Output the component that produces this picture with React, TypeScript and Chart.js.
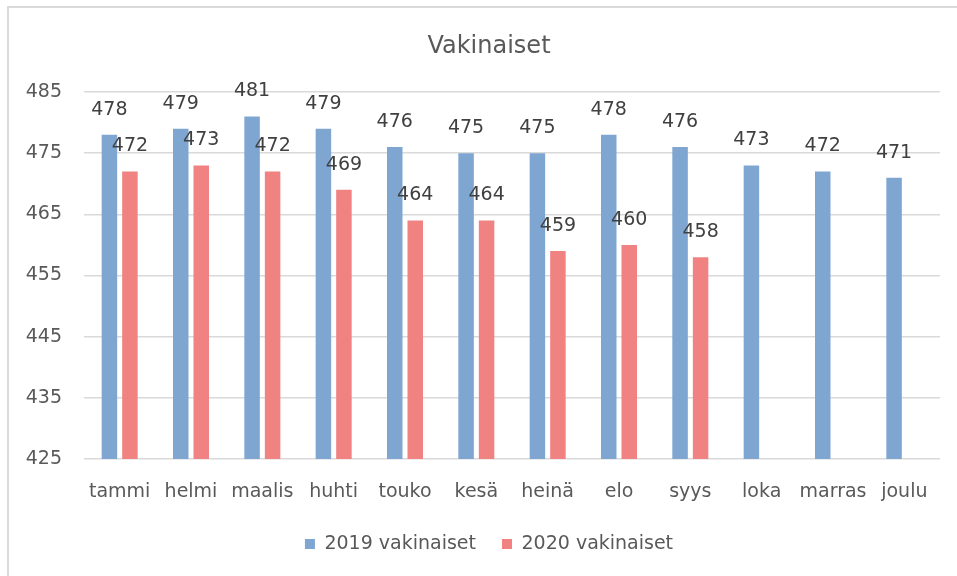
import React, { useEffect, useRef } from "react";
import { Chart, registerables } from "chart.js";

Chart.register(...registerables);

const categories = ["tammi", "helmi", "maalis", "huhti", "touko", "kesä", "heinä", "elo", "syys", "loka", "marras", "joulu"];
const values2019 = [478, 479, 481, 479, 476, 475, 475, 478, 476, 473, 472, 471];
const values2020: (number | null)[] = [472, 473, 472, 469, 464, 464, 459, 460, 458, null, null, null];
const seriesNames = ["2019 vakinaiset", "2020 vakinaiset"];
const chartTitle = "Vakinaiset";
const yMin = 425;
const yMax = 485;
const yStep = 10;

const FONT = '"DejaVu Sans", sans-serif';

const dataLabelPlugin = {
  id: "dataLabels",
  afterDatasetsDraw(chart: any) {
    const ctx = chart.ctx;
    ctx.save();
    ctx.font = `19px ${FONT}`;
    ctx.fillStyle = "#404040";
    ctx.textAlign = "center";
    ctx.textBaseline = "middle";
    chart.data.datasets.forEach((ds: any, i: number) => {
      const meta = chart.getDatasetMeta(i);
      meta.data.forEach((el: any, j: number) => {
        const v = ds.data[j];
        if (v == null) return;
        ctx.fillText(String(v), el.x, el.y - 25);
      });
    });
    ctx.restore();
  },
};

export default function App() {
  const ref = useRef<HTMLCanvasElement | null>(null);

  useEffect(() => {
    if (!ref.current) return;
    const chart = new Chart(ref.current, {
      type: "bar",
      data: {
        labels: categories,
        datasets: [
          {
            label: seriesNames[0],
            data: values2019,
            backgroundColor: "#7EA6D1",
            categoryPercentage: 0.575,
            barPercentage: 0.756,
            yAxisID: "y",
          },
          {
            label: seriesNames[1],
            data: values2020,
            backgroundColor: "#F08282",
            categoryPercentage: 0.575,
            barPercentage: 0.756,
            yAxisID: "y",
          },
        ],
      },
      options: {
        responsive: false,
        animation: false,
        layout: { padding: { left: 0, right: 0, top: 1, bottom: 12.5 } },
        plugins: {
          tooltip: { enabled: false },
          title: {
            display: true,
            text: chartTitle,
            color: "#595959",
            font: { family: FONT, size: 24, weight: "normal" as any, lineHeight: 1.2 },
            padding: { top: 23.6, bottom: 30.6 },
          },
          legend: {
            position: "bottom",
            labels: {
              boxWidth: 10,
              boxHeight: 10,
              padding: 26,
              color: "#595959",
              font: { family: FONT, size: 19 },
            },
          },
        },
        scales: {
          x: {
            grid: { display: false },
            border: { display: false },
            ticks: {
              color: "#595959",
              font: { family: FONT, size: 19 },
              padding: 14,
              maxRotation: 0,
              autoSkip: false,
            },
            afterFit(scale: any) {
              scale.height = 49.5;
            },
          },
          y: {
            min: yMin,
            max: yMax,
            ticks: {
              stepSize: yStep,
              color: "#595959",
              font: { family: FONT, size: 19 },
              padding: 22,
            },
            grid: { color: "#D9D9D9", lineWidth: 1.5, drawTicks: false },
            border: { display: false },
            afterFit(scale: any) {
              scale.width = 75;
            },
          },
          yRightSpace: {
            type: "linear",
            position: "right",
            min: yMin,
            max: yMax,
            grid: { display: false, drawTicks: false },
            border: { display: false },
            ticks: { display: false },
            afterFit(scale: any) {
              scale.width = 29;
            },
          },
        },
      },
      plugins: [dataLabelPlugin],
    });
    return () => chart.destroy();
  }, []);

  return (
    <div style={{ position: "fixed", left: 0, top: 0, width: 957, height: 576, overflow: "hidden", background: "#fff" }}>
      <div
        style={{
          position: "absolute",
          left: 7,
          top: 6,
          width: 2000,
          height: 2000,
          borderLeft: "2px solid #D9D9D9",
          borderTop: "2px solid #D9D9D9",
        }}
      />
      <canvas
        ref={ref}
        width={960}
        height={568}
        style={{ position: "absolute", left: 9, top: 8, width: 960, height: 568 }}
      />
    </div>
  );
}
